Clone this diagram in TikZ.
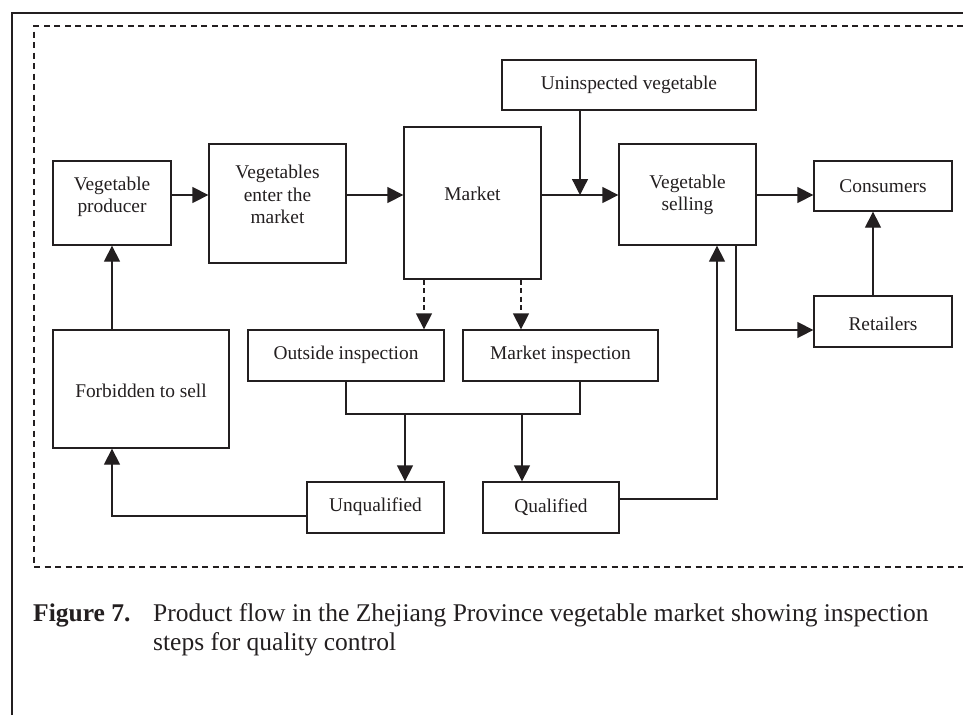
\documentclass[tikz,border=0pt]{standalone}
\usepackage{fontspec}
\setmainfont{Liberation Serif}
\usetikzlibrary{arrows.meta}
\definecolor{ink}{RGB}{35,31,32}
\tikzset{
  box/.style={draw=ink, line width=1.3pt, inner sep=0pt},
  txt/.style={inner sep=0pt, align=center, text=ink, font=\fontsize{19.4}{22.5}\selectfont},
  arr/.style={draw=ink, line width=1.3pt, -{Triangle[length=16pt,width=16pt]}},
  ln/.style={draw=ink, line width=1.3pt},
  darr/.style={arr, dash pattern=on 5pt off 3.5pt},
  captext/.style={inner sep=0pt, anchor=base west, text=ink, font=\fontsize{25.5}{29}\selectfont}
}
\begin{document}
\begin{tikzpicture}[x=1pt,y=-1pt]
\useasboundingbox (0,0) rectangle (963,715);
\fill[white] (0,0) rectangle (963,715);
% frames
\draw[ink, line width=1.8pt] (12,715) -- (12,13) -- (963,13);
\draw[ink, line width=1.1pt, dash pattern=on 6pt off 4.5pt] (963,26) -- (34,26) -- (34,567) -- (963,567);

% boxes
\node[box, minimum width=118pt, minimum height=84pt] (prod) at (112,203) {};
\node[txt] (prodt) at (112,197) {Vegetable\\producer};
\node[box, minimum width=137pt, minimum height=119pt] (enter) at (277.5,203.5) {};
\node[txt] (entert) at (277.5,194.5) {Vegetables\\enter the\\market};
\node[box, minimum width=137pt, minimum height=152pt] (market) at (472.5,203) {};
\node[txt] (markett) at (472.5,194) {Market};
\node[box, minimum width=254pt, minimum height=50pt] (unins) at (629,85) {};
\node[txt] (uninst) at (629,85) {Uninspected vegetable};
\node[box, minimum width=137pt, minimum height=101pt] (sell) at (687.5,194.5) {};
\node[txt] (sellt) at (687.5,195) {Vegetable\\selling};
\node[box, minimum width=138pt, minimum height=50pt] (cons) at (883,186) {};
\node[txt] (const) at (883,186) {Consumers};
\node[box, minimum width=138pt, minimum height=51pt] (ret) at (883,321.5) {};
\node[txt] (rett) at (883,324) {Retailers};
\node[box, minimum width=176pt, minimum height=118pt] (forb) at (141,389) {};
\node[txt] (forbt) at (141,391) {Forbidden to sell};
\node[box, minimum width=196pt, minimum height=51pt] (outs) at (346,355.5) {};
\node[txt] (outst) at (346,355) {Outside inspection};
\node[box, minimum width=195pt, minimum height=51pt] (mins) at (560.5,355.5) {};
\node[txt] (minst) at (560.5,355) {Market inspection};
\node[box, minimum width=137pt, minimum height=51pt] (unq) at (375.5,507.5) {};
\node[txt] (unqt) at (375.5,507) {Unqualified};
\node[box, minimum width=136pt, minimum height=51pt] (qual) at (551,507.5) {};
\node[txt] (qualt) at (551,507) {Qualified};

% helper coordinates
\coordinate (row) at (0,195);
\coordinate (j1) at (580,195);
\coordinate (k) at (736,330);
\coordinate (rc) at (873,0);
\coordinate (d1) at (424,0);
\coordinate (d2) at (521,0);
\coordinate (m2) at (580,414);
\coordinate (a1) at (405,414);
\coordinate (a2) at (522,414);
\coordinate (f1) at (112,516);
\coordinate (q1) at (717,499);

% connectors
\draw[arr] (prod.east |- row) -- (enter.west |- row);
\draw[arr] (enter.east |- row) -- (market.west |- row);
\draw[arr] (market.east |- row) -- (sell.west |- row);
\draw[arr] (unins.south -| j1) -- (j1);
\draw[arr] (sell.east |- row) -- (cons.west |- row);
\draw[arr] (sell.south -| k) |- (ret.west |- k);
\draw[arr] (ret.north -| rc) -- (cons.south -| rc);
\draw[darr] (market.south -| d1) -- (outs.north -| d1);
\draw[darr] (market.south -| d2) -- (mins.north -| d2);
\draw[ln] (outs.south) |- (m2) -- (mins.south -| m2);
\draw[arr] (a1) -- (unq.north -| a1);
\draw[arr] (a2) -- (qual.north -| a2);
\draw[arr] (unq.west |- f1) -| (forb.south -| f1);
\draw[arr] (forb.north -| prod.south) -- (prod.south);
\draw[arr] (qual.east |- q1) -| (sell.south -| q1);

% caption
\node[captext, font=\fontsize{25.5}{29}\selectfont\bfseries] (figlab) at (33,621) {Figure 7.};
\node[captext] (cap1) at (153,621) {Product flow in the Zhejiang Province vegetable market showing inspection};
\node[captext] (cap2) at (153,650) {steps for quality control};
\end{tikzpicture}
\end{document}
